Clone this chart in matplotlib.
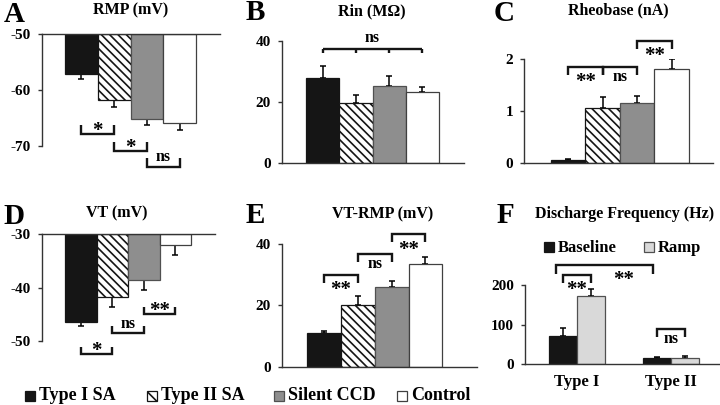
import numpy as np
import matplotlib
matplotlib.use('Agg')
import matplotlib.pyplot as plt
from matplotlib.patches import Rectangle

plt.rcParams['font.family'] = ['Liberation Serif', 'DejaVu Serif']
plt.rcParams['font.weight'] = 'bold'
plt.rcParams['hatch.linewidth'] = 1.2

# data
groups = ['Type I SA', 'Type II SA', 'Silent CCD', 'Control']
rmp = [-57.1, -61.7, -65.2, -65.9]
rmp_err = [0.9, 1.3, 1.1, 1.3]
rin = [27.9, 19.8, 25.2, 23.2]
rin_err = [3.8, 2.6, 3.2, 1.6]
rheo = [0.05, 1.06, 1.15, 1.81]
rheo_err = [0.02, 0.22, 0.14, 0.20]
vt = [-46.4, -41.7, -38.6, -32.1]
vt_err = [0.8, 1.9, 1.9, 1.8]
vt_rmp = [10.9, 20.0, 26.0, 33.5]
vt_rmp_err = [0.9, 2.9, 1.9, 2.2]
freq_types = ['Type I', 'Type II']
baseline = [71, 15]
baseline_err = [20, 3]
ramp = [172, 15]
ramp_err = [17, 5]

fills = ['#151515', 'white', '#8e8e8e', 'white']
edges = ['#151515', '#151515', '#505050', '#404040']
hatches = [None, r'\\\\', None, None]

W, H = 720, 405
fig = plt.figure(figsize=(7.2, 4.05), dpi=100)


def px_axes(left, top, right, bottom):
    return fig.add_axes([left / W, 1 - bottom / H, (right - left) / W, (bottom - top) / H])


def style(ax, yticks, top_line=False):
    ax.spines['right'].set_visible(False)
    if top_line:
        ax.spines['bottom'].set_visible(False)
    else:
        ax.spines['top'].set_visible(False)
    for s in ax.spines.values():
        s.set_linewidth(1.0)
        s.set_color('#333333')
    ax.set_yticks(yticks)
    ax.set_yticklabels([str(t) for t in yticks], fontsize=11, fontweight='bold')
    ax.set_xticks([])
    ax.tick_params(axis='y', length=3, width=1, pad=5, color='#333333')
    ax.patch.set_alpha(0)


def draw_bars(ax, vals, errs, base):
    x = np.arange(len(vals))
    vals = np.array(vals)
    bars = ax.bar(x, vals - base, width=1.0, bottom=base, color=fills,
                  edgecolor=edges, linewidth=0.9, zorder=2)
    for b, h in zip(bars, hatches):
        if h:
            b.set_hatch(h)
    zeros = np.zeros(len(vals))
    if base < 0:
        yerr = [errs, zeros]
    else:
        yerr = [zeros, errs]
    ax.errorbar(x, vals, yerr=yerr, fmt='none', ecolor='black', elinewidth=1.1,
                capsize=2.5, capthick=1.1, zorder=1)


def bracket(ax, x1, x2, y, h, text, up, xt=None):
    ys = y + h if up else y - h
    ax.plot([x1, x1, x2, x2], [ys, y, y, ys], color='#151515', lw=1.7,
            clip_on=False, solid_joinstyle='miter', solid_capstyle='butt')
    if text == 'ns':
        fs, off = 11.5, (7 if up else -7)
    else:
        fs, off = 15, (2 if up else -11)
    if xt is None:
        xt = (x1 + x2) / 2
    ax.annotate(text, (xt, y), xytext=(0, off), textcoords='offset points',
                ha='center', va='center', fontsize=fs, fontweight='bold',
                annotation_clip=False)


# A  RMP
axA = px_axes(42, 34, 220, 146)
axA.set_xlim(-1.20, 4.23)
axA.set_ylim(-70, -50)
draw_bars(axA, rmp, rmp_err, -50)
style(axA, [-70, -60, -50], top_line=True)
bracket(axA, 0, 1, -67.9, 1.6, '*', True)
bracket(axA, 1, 2, -70.9, 1.6, '*', True)
bracket(axA, 2, 3, -73.75, 1.6, 'ns', True)

# B  Rin
axB = px_axes(281.7, 40.7, 464, 163.3)
axB.set_xlim(-1.23, 4.25)
axB.set_ylim(0, 40)
draw_bars(axB, rin, rin_err, 0)
style(axB, [0, 20, 40])
axB.plot([0, 3], [37.4, 37.4], color='#151515', lw=1.7, clip_on=False, solid_capstyle='butt')
axB.vlines(np.arange(4), 36.1, 37.4, color='#151515', lw=1.7, clip_on=False)
axB.annotate('ns', (1.5, 37.4), xytext=(0, 8), textcoords='offset points',
             ha='center', va='center', fontsize=11.5, annotation_clip=False)

# C  Rheobase
axC = px_axes(524.3, 59.3, 713, 163)
axC.set_xlim(-1.26, 4.19)
axC.set_ylim(0, 2)
draw_bars(axC, rheo, rheo_err, 0)
style(axC, [0, 1, 2])
bracket(axC, 0, 1, 1.85, 0.16, '**', False)
bracket(axC, 1, 2, 1.85, 0.16, 'ns', False)
bracket(axC, 2, 3, 2.36, 0.16, '**', False)

# D  VT
axD = px_axes(41.7, 234.3, 215, 340.7)
axD.set_xlim(-1.24, 4.26)
axD.set_ylim(-50, -30)
draw_bars(axD, vt, vt_err, -30)
style(axD, [-50, -40, -30], top_line=True)
bracket(axD, 0, 1, -52.5, 1.4, '*', True)
bracket(axD, 1, 2, -48.6, 1.4, 'ns', True)
bracket(axD, 2, 3, -45.0, 1.4, '**', True)

# E  VT-RMP
axE = px_axes(281.7, 243.7, 476.7, 367)
axE.set_xlim(-1.24, 4.51)
axE.set_ylim(0, 40)
draw_bars(axE, vt_rmp, vt_rmp_err, 0)
style(axE, [0, 20, 40])
bracket(axE, 0, 1, 30.0, 2.6, '**', False)
bracket(axE, 1, 2, 36.6, 2.6, 'ns', False)
bracket(axE, 2, 3, 43.0, 2.6, '**', False)

# F  discharge frequency
axF = px_axes(525, 285, 720, 364.3)
axF.set_xlim(-0.553, 1.52)
axF.set_ylim(0, 200)
xf = np.arange(len(freq_types))
bw = 0.3
axF.bar(xf - bw / 2, baseline, width=bw, color='#151515', edgecolor='#151515', linewidth=0.9, zorder=2)
axF.bar(xf + bw / 2, ramp, width=bw, color='#d9d9d9', edgecolor='#505050', linewidth=0.9, zorder=2)
axF.errorbar(xf - bw / 2, baseline, yerr=[np.zeros(2), baseline_err], fmt='none', ecolor='black',
             elinewidth=1.1, capsize=2.5, capthick=1.1, zorder=1)
axF.errorbar(xf + bw / 2, ramp, yerr=[np.zeros(2), ramp_err], fmt='none', ecolor='black',
             elinewidth=1.1, capsize=2.5, capthick=1.1, zorder=1)
style(axF, [0, 100, 200])
axF.set_xticks(xf)
axF.set_xticklabels(freq_types, fontsize=12, fontweight='bold')
axF.tick_params(axis='x', length=0, pad=7)
bracket(axF, -0.15, 0.15, 226, 21, '**', False)
bracket(axF, -0.22, 0.81, 250, 23, '**', False, xt=0.5)
bracket(axF, 0.855, 1.15, 88, 18, 'ns', False)

# titles and panel letters
titles = [('RMP (mV)', 131, 14), ('Rin (MΩ)', 372, 15), ('Rheobase (nA)', 618, 14.5),
          ('VT (mV)', 117, 217.5), ('VT-RMP (mV)', 383, 218), ('Discharge Frequency (Hz)', 625, 218)]
for t, x, y in titles:
    fig.text(x / W, 1 - y / H, t, ha='center', va='baseline', fontsize=11.5, fontweight='bold')
letters = [('A', 14, 22), ('B', 255.5, 20), ('C', 504, 21), ('D', 13.5, 224), ('E', 255, 223), ('F', 505, 223)]
for t, x, y in letters:
    fig.text(x / W, 1 - y / H, t, ha='center', va='baseline', fontsize=21, fontweight='bold')


def legend_item(x, y, label, fc, ec, hatch, fs):
    sq = Rectangle((x / W, 1 - (y + 5) / H), 10 / W, 10 / H, transform=fig.transFigure,
                   facecolor=fc, edgecolor=ec, hatch=hatch, linewidth=0.9)
    fig.add_artist(sq)
    fig.text((x + 14) / W, 1 - (y + 5) / H, label, ha='left', va='baseline', fontsize=fs, fontweight='bold')


legend_x = [25, 147, 274, 397]
for lx, g, fc, ec, h in zip(legend_x, groups, fills, edges, hatches):
    legend_item(lx, 395.5, g, fc, ec, '\\' * 3 if h else None, 13)
legend_item(543.5, 246.5, 'Baseline', '#151515', '#151515', None, 12)
legend_item(644, 246.5, 'Ramp', '#d9d9d9', '#505050', None, 12)

fig.savefig('out.png', dpi=100)
